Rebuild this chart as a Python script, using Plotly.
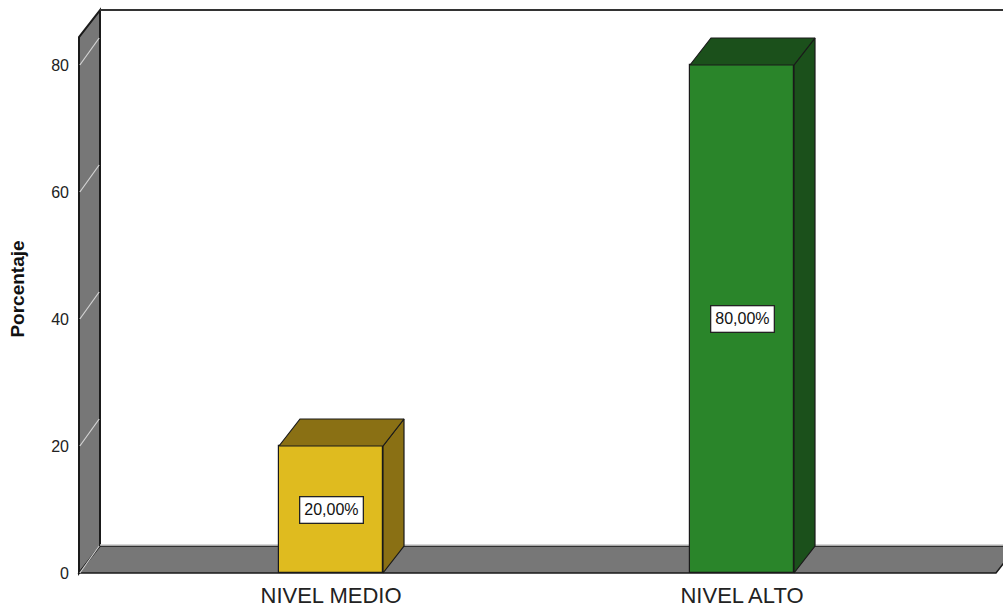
import plotly.graph_objects as go

# Data
categorias = ["NIVEL MEDIO", "NIVEL ALTO"]
porcentajes = [20.0, 80.0]
colores_frente = ["#DFBB1F", "#2A852A"]
colores_sombra = ["#8A7014", "#1B501B"]
marcas_y = [0, 20, 40, 60, 80]

# Canvas and scale setup
W, H = 1003, 608
ML, MB, MT, MR = 76, 30, 0, 0
PX_X = 411.0          # pixels per category step
PX_Y = 6.35           # pixels per percentage point
plot_w = W - ML - MR
plot_h = H - MT - MB

# front-plane left edge (wall) in data units, and the range around it
X0 = -(331 - 79) / PX_X
x_min = X0 - (79 - ML) / PX_X
x_max = x_min + plot_w / PX_X
y_min = -(MT + plot_h - 573) / PX_Y
y_max = y_min + plot_h / PX_Y

# 3D depth offset in data units
DX = 21 / PX_X
DY = 27 / PX_Y
BAR_W = 104 / PX_X
Y_TOP = 84.4                  # height of the wall / back panel
X_RIGHT = X0 + (996 - 79) / PX_X

EDGE = "#1a1a1a"
WALL = "#777777"
GRID = "#d4d4d4"

fig = go.Figure()

# Front faces of the bars
fig.add_trace(go.Bar(
    x=list(range(len(categorias))), y=porcentajes, width=BAR_W,
    marker=dict(color=colores_frente, line=dict(color=EDGE, width=1.2)),
    hoverinfo="skip", showlegend=False,
))

# Top and side faces of the bars
for i, v in enumerate(porcentajes):
    l, r = i - BAR_W / 2, i + BAR_W / 2
    side_x = [r, r + DX, r + DX, r, r]
    side_y = [0, DY, v + DY, v, 0]
    top_x = [l, l + DX, r + DX, r, l]
    top_y = [v, v + DY, v + DY, v, v]
    for xs, ys in ((side_x, side_y), (top_x, top_y)):
        fig.add_trace(go.Scatter(
            x=xs, y=ys, mode="lines", fill="toself",
            fillcolor=colores_sombra[i], line=dict(color=EDGE, width=1.2),
            hoverinfo="skip", showlegend=False,
        ))

shapes = []
# Left wall
shapes.append(dict(
    type="path", layer="below",
    path=f"M {X0},0 L {X0},{Y_TOP} L {X0+DX},{Y_TOP+DY} L {X0+DX},{DY} Z",
    fillcolor=WALL, line=dict(color=EDGE, width=2),
))
# Floor
shapes.append(dict(
    type="path", layer="below",
    path=f"M {X0},0 L {X_RIGHT},0 L {X_RIGHT+DX},{DY} L {X0+DX},{DY} Z",
    fillcolor=WALL, line=dict(color=EDGE, width=1.5),
))
# Floor back edge highlight
shapes.append(dict(type="line", layer="below", x0=X0 + DX, y0=DY + 0.15,
                   x1=x_max, y1=DY + 0.15, line=dict(color="#c8c8c8", width=1.5)))
# Wall gridlines
for t in marcas_y:
    shapes.append(dict(type="line", layer="below", x0=X0 + 0.002, y0=t,
                       x1=X0 + DX - 0.002, y1=t + DY,
                       line=dict(color=GRID, width=1.2)))
# Back panel top border
shapes.append(dict(type="line", layer="below", x0=X0 + DX, y0=Y_TOP + DY,
                   x1=x_max, y1=Y_TOP + DY, line=dict(color="#333333", width=2)))

# Value labels
annotations = []
for i, v in enumerate(porcentajes):
    annotations.append(dict(
        x=i, y=v / 2, xref="x", yref="y", showarrow=False,
        text=f"{v:.2f}".replace(".", ",") + "%",
        font=dict(family="Liberation Sans, Arial", size=16, color="#111111"),
        bgcolor="white", bordercolor="#222222", borderwidth=1.3, borderpad=4,
    ))

fig.update_layout(
    width=W, height=H,
    margin=dict(l=ML, r=MR, t=MT, b=MB),
    paper_bgcolor="white", plot_bgcolor="white",
    shapes=shapes, annotations=annotations,
    font=dict(family="Liberation Sans, Arial", color="#222222"),
    bargap=0,
)
fig.update_xaxes(
    range=[x_min, x_max], tickvals=list(range(len(categorias))),
    ticktext=categorias, tickfont=dict(size=22, color="#222222"),
    showgrid=False, zeroline=False, showline=False, ticks="",
    ticklabelstandoff=2,
)
fig.update_yaxes(
    range=[y_min, y_max], tickvals=marcas_y, ticktext=[str(t) for t in marcas_y],
    tickfont=dict(size=16, color="#222222"),
    showgrid=False, zeroline=False, showline=False, ticks="",
    ticklabelstandoff=6,
    title=dict(text="<b>Porcentaje</b>", font=dict(size=19, color="#111111"),
               standoff=21),
)

fig.write_html("out.html")
